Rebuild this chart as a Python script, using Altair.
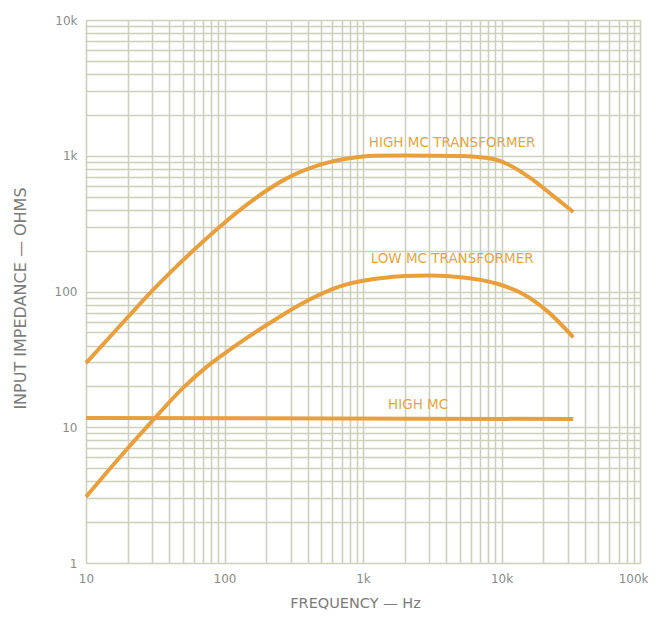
import altair as alt
import pandas as pd

# Curve data (frequency in Hz, impedance in ohms)
high_mc_tr_f = [10, 20, 30, 40, 60, 100, 150, 200, 300, 500, 800, 1200, 2000, 5000, 8700, 11000, 16000, 23500, 33000]
high_mc_tr_z = [29.7, 64.6, 101, 136, 202, 321, 447, 552, 705, 865, 959, 1000, 1005, 995, 946, 870, 690, 508, 385]

low_mc_tr_f = [10, 20, 30, 50, 75, 110, 200, 350, 500, 700, 1000, 1500, 2000, 3000, 5300, 9300, 14300, 21300, 33000]
low_mc_tr_z = [3.07, 7.0, 11.1, 19.4, 28.1, 37.5, 56.4, 80, 96, 110, 120, 127, 130, 131, 127, 114, 96, 72, 46]

high_mc_f = [10, 33000]
high_mc_z = [11.7, 11.5]

# Annotation labels
label_text = ["HIGH MC TRANSFORMER", "LOW MC TRANSFORMER", "HIGH MC"]
label_f = [4400, 4400, 2500]
label_z = [1250, 175, 14.5]

# Grid / tick values
x_grid = [m * 10 ** e for e in range(1, 5) for m in range(1, 10)] + [100000]
y_grid = [m * 10 ** e for e in range(0, 4) for m in range(1, 10)] + [10000]
x_major = [10, 100, 1000, 10000, 100000]
y_major = [1, 10, 100, 1000, 10000]

rows = []
for name, fs, zs in [("HIGH MC TRANSFORMER", high_mc_tr_f, high_mc_tr_z),
                     ("LOW MC TRANSFORMER", low_mc_tr_f, low_mc_tr_z),
                     ("HIGH MC", high_mc_f, high_mc_z)]:
    for f, z in zip(fs, zs):
        rows.append({"series": name, "f": f, "z": z})
df = pd.DataFrame(rows)
lab = pd.DataFrame({"label": label_text, "f": label_f, "z": label_z})

label_expr_x = ("indexof(%s, datum.value) >= 0 ? (datum.value >= 1000 ? format(datum.value/1000, 'd') + 'k' : format(datum.value, 'd')) : ''"
                % str(x_major))
label_expr_y = ("indexof(%s, datum.value) >= 0 ? (datum.value >= 1000 ? format(datum.value/1000, 'd') + 'k' : format(datum.value, 'd')) : ''"
                % str(y_major))

xscale = alt.Scale(type="log", domain=[10, 100000], nice=False)
yscale = alt.Scale(type="log", domain=[1, 10000], nice=False)

xaxis = alt.Axis(values=x_grid, labelExpr=label_expr_x, labelOverlap=False, ticks=False,
                 labelFlush=False,
                 labelAlign={"condition": {"test": "datum.value >= 100000", "value": "right"}, "value": "center"},
                 labelOffset={"condition": {"test": "datum.value >= 100000", "value": 8}, "value": 0},
                 domain=False, grid=True, gridColor="#cdd0bd", gridWidth=1.6,
                 labelColor="#8a8a86", labelFont="DejaVu Sans", labelFontSize=12, labelPadding=10,
                 title="FREQUENCY — Hz", titleFont="DejaVu Sans", titleFontSize=14.5,
                 titleFontWeight="normal", titleColor="#7c7c78", titleX=269, titleY=40,
                 titleBaseline="middle")
yaxis = alt.Axis(values=y_grid, labelExpr=label_expr_y, labelOverlap=False, ticks=False,
                 labelFlush=False, domain=False, grid=True, gridColor="#cdd0bd", gridWidth=1.6,
                 labelColor="#8a8a86", labelFont="DejaVu Sans", labelFontSize=12, labelPadding=9,
                 title="INPUT IMPEDANCE — OHMS", titleFont="DejaVu Sans", titleFontSize=16,
                 titleFontWeight="normal", titleColor="#7c7c78", titleX=-66, titleY=278,
                 titleAngle=-90, titleBaseline="middle")

lines = alt.Chart(df).mark_line(color="#e9a03c", strokeWidth=4, interpolate="monotone").encode(
    x=alt.X("f:Q", scale=xscale, axis=xaxis),
    y=alt.Y("z:Q", scale=yscale, axis=yaxis),
    detail="series:N",
)

texts = alt.Chart(lab).mark_text(color="#eaa43c", font="DejaVu Sans", fontSize=13.5,
                                 align="center", baseline="middle").encode(
    x=alt.X("f:Q", scale=xscale),
    y=alt.Y("z:Q", scale=yscale),
    text="label:N",
)

chart = alt.layer(lines, texts).properties(
    width=554, height=543,
    autosize=alt.AutoSizeParams(type="none"),
    padding={"left": 78, "top": 12, "right": 8, "bottom": 50},
).configure_view(strokeWidth=0).configure(background="#ffffff")

chart.save("out.html", embed_options={"renderer": "svg", "actions": False})
